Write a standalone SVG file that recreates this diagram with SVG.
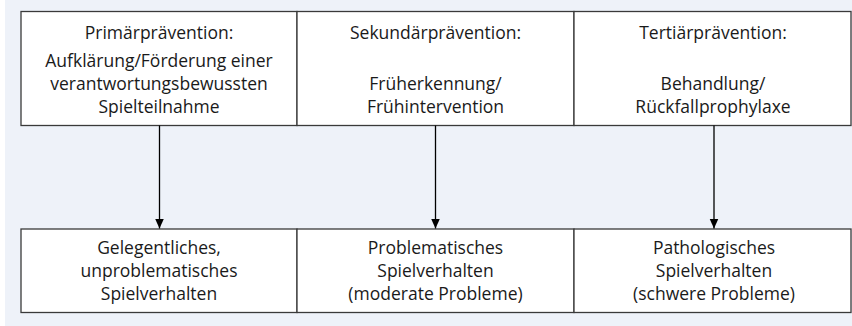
<svg xmlns="http://www.w3.org/2000/svg" width="852" height="326" viewBox="0 0 852 326">
<style>
.box{fill:#ffffff;stroke:#3a3a3a;stroke-width:1.3}
.t{font-family:"Open Sans","Liberation Sans",Arial,sans-serif;font-size:17.5px;fill:#1a1a1a;text-anchor:middle}
.c{stroke:#000;stroke-width:1.3;fill:none}
</style>
<defs>
<marker id="ah" viewBox="0 0 10 10" refX="10" refY="5" markerWidth="10" markerHeight="10" markerUnits="userSpaceOnUse" orient="auto">
<path d="M0,0.5 L10,5 L0,9.5 Z" fill="#000"/>
</marker>
</defs>
<rect x="0" y="0" width="852" height="326" fill="#ffffff"/>
<rect x="5" y="0" width="847" height="326" fill="#eef2f9"/>
<g id="n1"><rect class="box" x="21" y="11.5" width="276" height="114"/>
<text class="t" x="159" y="39">Primärprävention:</text>
<text class="t" x="159" y="67">Aufklärung/Förderung einer</text>
<text class="t" x="159" y="90">verantwortungsbewussten</text>
<text class="t" x="159" y="113">Spielteilnahme</text></g>
<g id="n2"><rect class="box" x="297" y="11.5" width="277" height="114"/>
<text class="t" x="435.5" y="39">Sekundärprävention:</text>
<text class="t" x="435.5" y="90">Früherkennung/</text>
<text class="t" x="435.5" y="113">Frühintervention</text></g>
<g id="n3"><rect class="box" x="574" y="11.5" width="277" height="114"/>
<text class="t" x="713" y="39">Tertiärprävention:</text>
<text class="t" x="713" y="90">Behandlung/</text>
<text class="t" x="713" y="113">Rückfallprophylaxe</text></g>
<g id="n4"><rect class="box" x="21" y="229" width="276" height="83.5"/>
<text class="t" x="159" y="254">Gelegentliches,</text>
<text class="t" x="159" y="277">unproblematisches</text>
<text class="t" x="159" y="300">Spielverhalten</text></g>
<g id="n5"><rect class="box" x="297" y="229" width="277" height="83.5"/>
<text class="t" x="435.5" y="254">Problematisches</text>
<text class="t" x="435.5" y="277">Spielverhalten</text>
<text class="t" x="435.5" y="300">(moderate Probleme)</text></g>
<g id="n6"><rect class="box" x="574" y="229" width="277" height="83.5"/>
<text class="t" x="714" y="254">Pathologisches</text>
<text class="t" x="714" y="277">Spielverhalten</text>
<text class="t" x="714" y="300">(schwere Probleme)</text></g>
<g id="connectors">
<line class="c" x1="159.5" y1="125.5" x2="159.5" y2="228.5" marker-end="url(#ah)"/>
<line class="c" x1="435.5" y1="125.5" x2="435.5" y2="228.5" marker-end="url(#ah)"/>
<line class="c" x1="714" y1="125.5" x2="714" y2="228.5" marker-end="url(#ah)"/>
</g>
</svg>
